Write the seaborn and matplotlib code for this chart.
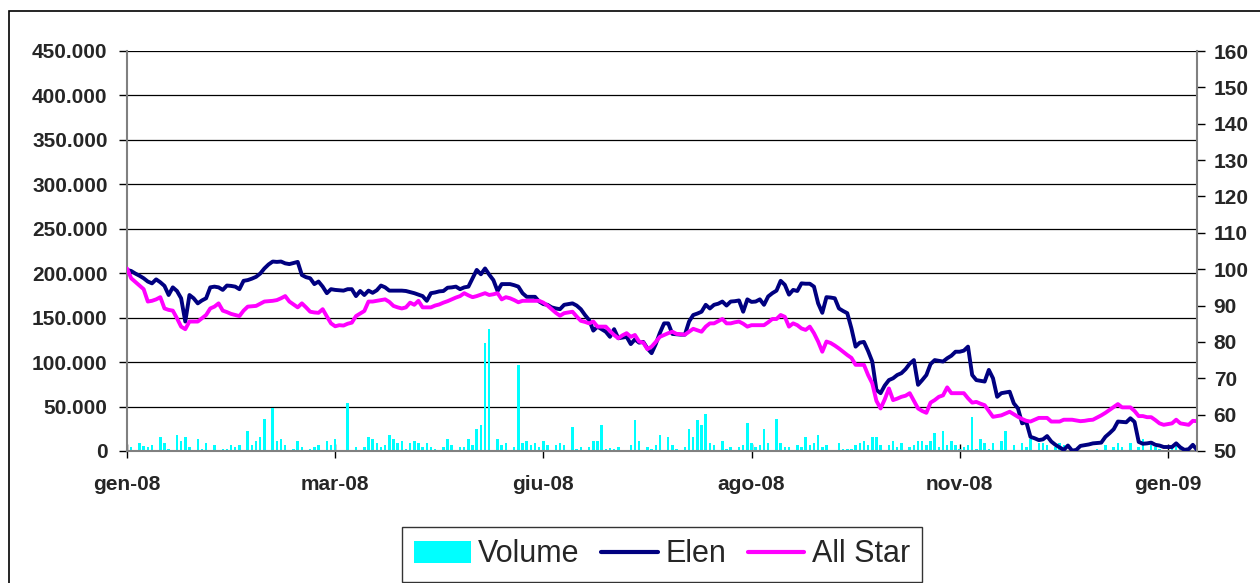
import numpy as np
import pandas as pd
import matplotlib
matplotlib.use("Agg")
import matplotlib.pyplot as plt
import matplotlib.patches as mpatches
from matplotlib.ticker import FuncFormatter
import seaborn as sns

# daily volume, in thousands of shares
volume_k = [
    6.7, 4.9, 1.0, 8.6, 6.0, 4.9, 6.7, 1.5, 15.4, 8.6,
    2.0, 1.0, 18.0, 11.3, 15.8, 4.9, 1.0, 13.1, 2.0, 8.6,
    1.0, 6.7, 1.0, 2.0, 2.0, 6.7, 4.9, 6.7, 1.0, 22.5,
    6.7, 11.3, 16.0, 35.6, 1.0, 48.8, 11.3, 13.1, 6.7, 1.0,
    2.0, 11.3, 4.9, 1.0, 2.0, 4.9, 6.7, 1.0, 11.3, 6.7,
    13.1, 1.0, 1.0, 53.6, 1.0, 4.9, 1.0, 4.9, 15.8, 13.1,
    8.6, 4.9, 6.7, 18.0, 13.1, 8.6, 11.3, 2.0, 8.6, 11.3,
    8.6, 4.9, 8.8, 4.2, 1.9, 1.0, 4.2, 13.4, 6.9, 1.0,
    4.2, 4.2, 13.4, 6.9, 24.4, 29.0, 122.0, 137.0, 1.0, 13.1,
    6.9, 8.8, 1.0, 4.2, 97.0, 8.8, 10.7, 6.9, 8.8, 4.2,
    11.8, 6.9, 1.0, 6.9, 8.8, 6.9, 1.0, 27.5, 1.9, 4.2,
    1.0, 4.2, 11.8, 11.8, 29.8, 1.9, 3.0, 1.9, 4.2, 1.0,
    1.0, 6.9, 34.4, 11.8, 1.0, 4.2, 1.9, 6.9, 17.6, 1.0,
    15.6, 6.9, 1.9, 1.0, 4.2, 24.8, 15.6, 34.4, 29.8, 41.2,
    8.8, 6.9, 1.0, 11.8, 1.9, 4.2, 1.0, 4.2, 6.9, 31.7,
    8.8, 4.2, 6.9, 24.8, 8.8, 1.0, 36.3, 8.8, 4.2, 4.2,
    1.0, 6.9, 4.2, 15.6, 6.9, 8.8, 18.3, 4.2, 6.9, 1.0,
    1.0, 8.8, 1.9, 1.9, 1.9, 6.9, 8.8, 11.8, 6.9, 15.6,
    15.6, 6.9, 1.0, 6.9, 11.8, 4.2, 8.8, 1.0, 4.2, 6.9,
    10.7, 11.8, 6.9, 11.8, 20.2, 4.2, 22.9, 6.9, 11.8, 6.9,
    1.9, 4.2, 6.9, 38.6, 1.9, 13.4, 8.8, 1.9, 8.8, 1.0,
    10.7, 22.9, 1.0, 6.9, 1.0, 8.8, 4.2, 13.4, 1.0, 8.8,
    8.8, 6.9, 1.0, 4.2, 8.8, 6.9, 1.0, 1.0, 1.0, 1.0,
    1.0, 1.0, 1.0, 1.9, 1.0, 6.9, 1.0, 4.2, 8.8, 4.2,
    1.0, 8.8, 1.0, 4.2, 13.4, 1.0, 6.9, 4.2, 1.9, 1.0,
    1.0, 4.2, 6.9, 1.9, 1.0, 1.0, 1.0, 1.0,
]

# price indices (base 100), right axis
elen = [
    99.8, 99.5, 98.8, 98.2, 97.5, 96.6, 96.1, 97.2, 96.4, 95.4,
    92.9, 95.0, 94.0, 92.0, 85.6, 92.9, 92.0, 90.6, 91.4, 92.0,
    95.0, 95.2, 95.0, 94.3, 95.5, 95.4, 95.2, 94.5, 96.8, 97.0,
    97.4, 97.9, 98.8, 100.2, 101.3, 102.1, 102.0, 102.1, 101.6, 101.4,
    101.7, 102.0, 98.4, 97.8, 97.5, 95.9, 96.6, 95.2, 93.4, 94.5,
    94.3, 94.2, 94.1, 94.5, 94.5, 92.6, 94.0, 92.9, 94.1, 93.5,
    94.2, 95.5, 95.0, 94.1, 94.1, 94.1, 94.1, 94.0, 93.7, 93.4,
    93.0, 92.6, 91.3, 93.4, 93.6, 93.9, 94.0, 94.9, 95.0, 95.2,
    94.5, 95.0, 95.2, 97.5, 99.8, 98.6, 100.2, 98.5, 97.0, 94.0,
    95.9, 95.9, 95.9, 95.6, 95.2, 93.4, 92.4, 92.4, 92.4, 91.1,
    90.4, 90.2, 89.5, 89.2, 89.0, 90.2, 90.4, 90.6, 90.0, 89.0,
    87.4, 86.0, 83.1, 84.2, 83.5, 82.8, 81.4, 83.5, 81.0, 81.2,
    81.4, 79.4, 80.7, 79.8, 80.0, 78.2, 76.9, 79.4, 82.5, 85.1,
    85.1, 82.2, 82.1, 82.0, 82.0, 85.6, 87.4, 87.8, 88.3, 90.2,
    89.2, 90.2, 90.5, 91.1, 90.0, 91.1, 91.2, 91.4, 88.3, 91.7,
    91.0, 91.1, 91.7, 90.2, 92.5, 93.4, 94.1, 96.8, 95.7, 93.0,
    94.3, 94.0, 96.1, 96.0, 96.0, 95.2, 90.6, 88.0, 92.3, 92.2,
    92.0, 89.2, 88.5, 87.9, 83.7, 78.7, 79.8, 80.0, 77.5, 74.6,
    66.8, 65.9, 68.0, 69.5, 70.0, 70.9, 71.4, 72.5, 74.0, 75.0,
    68.2, 69.5, 70.9, 73.9, 75.0, 74.8, 74.6, 75.5, 76.2, 77.3,
    77.3, 77.6, 78.7, 70.9, 69.5, 69.3, 69.1, 72.3, 70.0, 64.9,
    65.9, 66.1, 66.3, 63.1, 61.7, 57.6, 58.0, 53.9, 53.5, 53.0,
    53.2, 54.1, 52.6, 51.7, 51.0, 50.3, 51.5, 50.1, 50.3, 51.4,
    51.6, 51.8, 52.1, 52.2, 52.3, 53.9, 54.9, 56.0, 58.1, 58.0,
    57.9, 59.0, 58.0, 52.5, 52.0, 52.1, 52.3, 51.7, 51.5, 51.1,
    51.1, 51.1, 52.1, 51.0, 50.3, 50.5, 51.7, 50.3,
]

all_star = [
    100.2, 97.5, 96.5, 95.5, 94.5, 91.1, 91.3, 91.7, 92.3, 89.2,
    88.8, 88.6, 86.5, 84.2, 83.5, 85.6, 85.6, 85.6, 86.5, 87.4,
    89.2, 89.7, 90.6, 88.6, 88.2, 87.7, 87.4, 87.1, 88.6, 89.7,
    89.8, 89.9, 90.5, 91.1, 91.2, 91.3, 91.5, 92.0, 92.6, 91.1,
    90.3, 89.5, 90.6, 89.5, 88.3, 88.1, 88.0, 89.0, 87.0, 85.1,
    84.3, 84.6, 84.5, 85.0, 85.3, 87.1, 87.8, 88.5, 91.1, 91.1,
    91.3, 91.5, 91.7, 91.0, 89.9, 89.5, 89.2, 89.5, 90.8, 90.2,
    91.3, 89.5, 89.5, 89.5, 90.0, 90.3, 90.8, 91.2, 91.7, 92.2,
    92.6, 93.4, 92.8, 92.3, 92.6, 93.0, 93.4, 92.9, 93.1, 93.4,
    91.7, 92.3, 92.0, 91.5, 90.9, 91.3, 91.3, 91.3, 91.3, 91.3,
    90.8, 90.0, 89.0, 88.0, 87.2, 87.9, 88.1, 88.3, 87.0, 85.8,
    85.5, 85.1, 85.6, 84.2, 84.2, 84.2, 83.0, 81.9, 81.0, 81.8,
    82.4, 81.4, 81.9, 80.1, 79.8, 78.0, 78.7, 80.0, 81.4, 81.9,
    82.4, 82.8, 82.2, 82.1, 82.0, 82.8, 83.6, 83.2, 82.8, 84.2,
    85.1, 85.1, 85.7, 86.3, 85.1, 85.1, 85.4, 85.6, 85.0, 84.2,
    84.6, 84.6, 84.6, 84.6, 85.4, 86.3, 86.3, 87.4, 86.9, 84.2,
    85.1, 84.6, 83.7, 83.3, 84.2, 82.4, 80.1, 77.3, 80.1, 79.7,
    79.0, 78.2, 77.3, 76.4, 75.6, 73.7, 73.7, 73.7, 70.9, 68.6,
    63.8, 61.7, 64.2, 67.2, 64.0, 64.4, 64.9, 65.2, 65.9, 63.8,
    61.7, 61.0, 60.5, 63.3, 64.0, 64.9, 65.3, 67.5, 65.9, 65.9,
    65.9, 65.9, 64.5, 63.3, 63.5, 63.0, 62.6, 61.0, 59.4, 59.6,
    59.8, 60.3, 60.8, 60.1, 59.4, 58.8, 58.3, 58.1, 58.6, 59.1,
    59.1, 59.1, 58.1, 58.1, 58.1, 58.6, 58.6, 58.6, 58.4, 58.2,
    58.3, 58.5, 58.6, 59.2, 59.8, 60.5, 61.3, 62.1, 62.9, 62.0,
    62.0, 62.0, 61.0, 59.6, 59.6, 59.3, 59.3, 58.5, 57.6, 57.2,
    57.4, 57.6, 58.6, 57.6, 57.4, 57.2, 58.3, 58.2,
]

tick_labels = ["gen-08", "mar-08", "giu-08", "ago-08", "nov-08", "gen-09"]
tick_step = 50  # one label every 50 trading days

sns.set_theme(style="white")
plt.rcParams["font.family"] = ["Liberation Sans", "DejaVu Sans"]
plt.rcParams["font.weight"] = "bold"

n = len(elen)
df = pd.DataFrame({
    "day": np.arange(n),
    "Volume": volume_k,
    "Elen": elen,
    "All Star": all_star,
})

W, H = 1260, 583
fig = plt.figure(figsize=(W / 100, H / 100), dpi=100)
fig.patch.set_facecolor("white")
ax = fig.add_axes([127 / W, 1 - 451 / H, (1197 - 127) / W, 400 / H])

sns.barplot(data=df, x="day", y="Volume", native_scale=True, color="#00FFFF",
            saturation=1, width=0.6, errorbar=None, linewidth=0,
            label="Volume", ax=ax)

ax2 = ax.twinx()
sns.lineplot(data=df, x="day", y="Elen", color="#000080", lw=2.8,
             label="Elen", ax=ax2)
sns.lineplot(data=df, x="day", y="All Star", color="#FF00FF", lw=2.8,
             label="All Star", ax=ax2)

# left axis: volume
ax.set_xlim(0, n - 1)
ax.set_ylim(0, 450)
ax.set_yticks(np.arange(0, 451, 50))
ax.yaxis.set_major_formatter(FuncFormatter(lambda v, p: "0" if v == 0 else f"{v:.0f}.000"))
ax.yaxis.grid(True, color="black", lw=0.9)
ax.xaxis.grid(False)
ax.set_axisbelow(True)
ax.set_xticks(np.arange(0, n, tick_step))
ax.set_xticklabels(tick_labels)
ax.set_xlabel("")
ax.set_ylabel("")
ax.tick_params(axis="y", direction="out", length=6, width=1, color="black",
               pad=8, labelsize=15, left=True)
ax.tick_params(axis="x", direction="inout", length=10, width=1, color="black",
               pad=12, labelsize=15, bottom=True)

# right axis: indices
ax2.set_ylim(50, 160)
ax2.set_yticks(np.arange(50, 161, 10))
ax2.set_ylabel("")
ax2.grid(False)
ax2.tick_params(axis="y", direction="out", length=6, width=1, color="black",
                pad=6, labelsize=15, right=True)

for a in (ax, ax2):
    a.spines["top"].set_visible(False)
    for s in ("left", "right", "bottom"):
        a.spines[s].set_color("#808080")
        a.spines[s].set_linewidth(1.5)
ax.spines["right"].set_visible(False)
ax2.spines["left"].set_visible(False)
ax2.spines["bottom"].set_visible(False)

# one legend for both axes
h1, l1 = ax.get_legend_handles_labels()
h2, l2 = ax2.get_legend_handles_labels()
for a in (ax, ax2):
    if a.get_legend() is not None:
        a.get_legend().remove()
leg = fig.legend(h1 + h2, l1 + l2, loc="center",
                 bbox_to_anchor=(662 / W, 1 - 554.5 / H), ncol=3,
                 frameon=True, fancybox=False, edgecolor="black",
                 prop={"size": 22, "weight": "normal"},
                 handlelength=1.85, handletextpad=0.25, columnspacing=0.7,
                 borderpad=0.4)
leg.get_frame().set_linewidth(1.0)
for line in leg.get_lines():
    line.set_linewidth(3)

# chart-area border
fig.patches.append(mpatches.Rectangle((9 / W, -0.05), 1.0, 1 - 11 / H + 0.05,
                                      transform=fig.transFigure, fill=False,
                                      edgecolor="black", lw=1.2))

fig.savefig("out.png", dpi=100)
